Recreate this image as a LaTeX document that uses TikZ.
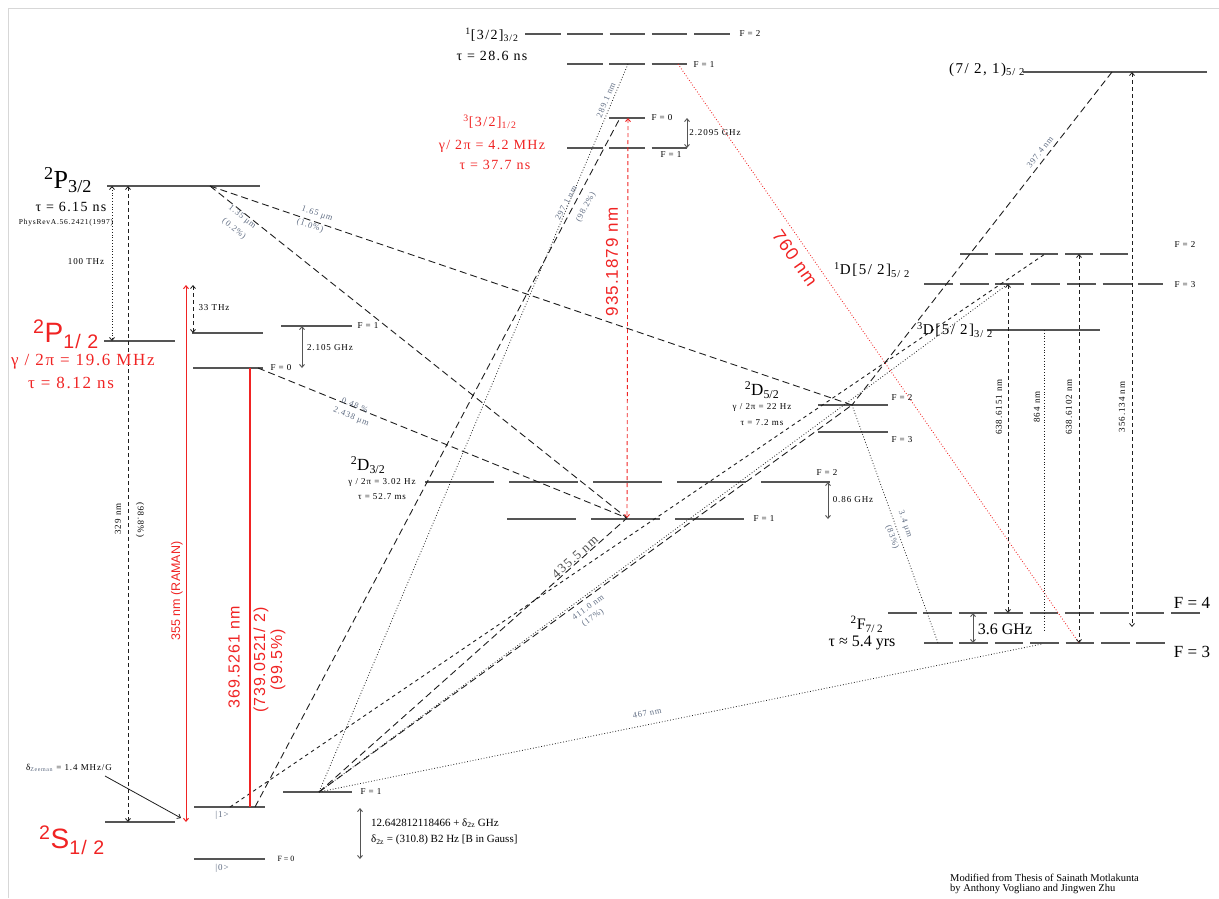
\documentclass[tikz,border=0pt]{standalone}
\usepackage{fontspec}
\setmainfont{Liberation Serif}
\setsansfont{Liberation Sans}
\newfontfamily\spc[LetterSpace=10]{Liberation Serif}
\newfontfamily\sspc[LetterSpace=6]{Liberation Sans}
\usetikzlibrary{arrows.meta}
\definecolor{lvlgray}{RGB}{85,85,85}
\definecolor{lnblack}{RGB}{30,30,30}
\definecolor{labslate}{RGB}{95,108,130}
\definecolor{ybred}{RGB}{240,35,35}
\definecolor{framegray}{RGB}{215,215,215}
\newcommand{\fsz}[1]{\fontsize{#1}{#1}\selectfont}

\begin{document}
\begin{tikzpicture}[x=1pt, y=-1pt,
    >={Straight Barb[length=3pt,width=5pt]},
    lvl/.style={lvlgray, line width=1.6pt},
    trans/.style={lnblack, line width=0.9pt, dash pattern=on 7pt off 4pt},
    sdash/.style={lnblack, line width=0.9pt, dash pattern=on 3.5pt off 3.5pt},
    dotln/.style={lnblack, line width=0.8pt, dash pattern=on 0.8pt off 2pt},
    reddot/.style={ybred, line width=0.9pt, dash pattern=on 0.8pt off 2pt},
    vspan/.style={lnblack, line width=0.8pt, dash pattern=on 4pt off 3pt, <->},
    gap/.style={lvlgray, line width=0.9pt, <->},
    flab/.style={font=\spc\fsz{9}, inner sep=0pt},
    tlab/.style={font=\spc\fsz{8.5}, text=labslate, inner sep=0pt},
    mlab/.style={font=\spc\fsz{14}, inner sep=0pt},
    termlab/.style={font=\fsz{26}, inner sep=0pt},
    rsans/.style={font=\sspc\fsz{16}, text=ybred, inner sep=0pt}
]
\useasboundingbox (0,0) rectangle (1219,898);
\draw[framegray, line width=0.8pt] (8,898) -- (8,8) -- (1219,8);

% levels
\draw[lvl] (107,186) -- (260,186);
\draw[lvl] (104,341) -- (175,341);
\draw[lvl] (192,333) -- (263,333);
\draw[lvl] (281,326) -- (352,326);
\draw[lvl] (193,368) -- (263,368);
\draw[lvl] (105,822) -- (175,822);
\draw[lvl] (194,807) -- (265,807);
\draw[lvl] (194,859) -- (265,859);
\draw[lvl] (283,792) -- (352,792);
\draw[lvl, dash pattern=on 69pt off 15pt] (425,482) -- (832,482);
\draw[lvl, dash pattern=on 69pt off 15pt] (507,519) -- (747,519);
\draw[lvl] (818,405) -- (888,405);
\draw[lvl] (818,432) -- (888,432);
\draw[lvl, dash pattern=on 35.5pt off 6.8pt] (525,34) -- (730,34);
\draw[lvl, dash pattern=on 35.5pt off 6.8pt] (567,64) -- (687,64);
\draw[lvl] (609,118) -- (645,118);
\draw[lvl, dash pattern=on 35.5pt off 6.8pt] (567,148) -- (687,148);
\draw[lvl] (1023,72) -- (1207,72);
\draw[lvl, dash pattern=on 28.3pt off 6.7pt] (960,254) -- (1128,254);
\draw[lvl, dash pattern=on 29pt off 6.7pt] (924,284) -- (1163,284);
\draw[lvl] (987,330) -- (1100,330);
\draw[lvl, dash pattern=on 28.5pt off 6.9pt] (888,613) -- (1200,613);
\draw[lvl, dash pattern=on 28.5pt off 6.9pt] (924,643) -- (1165,643);

% end points of the transitions
\coordinate (pA) at (210,186);
\coordinate (f0) at (258,368);
\coordinate (s1a) at (230,807);
\coordinate (s1b) at (255,807);
\coordinate (sF) at (319,792);
\coordinate (dA) at (627,518);
\coordinate (dB) at (852,405);
\coordinate (uA) at (628,64);
\coordinate (uB) at (678,64);
\coordinate (tA) at (620,118);
\coordinate (tB) at (628,118);
\coordinate (qA) at (1112,72);
\coordinate (qB) at (1132,72);
\coordinate (eA) at (1045,254);
\coordinate (eB) at (1079,254);
\coordinate (eC) at (1008,284);
\coordinate (gA) at (1044,330);
\coordinate (fA) at (938,643);
\coordinate (fB) at (1042,644);
\coordinate (fC) at (1079,643);
\coordinate (fD) at (1008,613);
\coordinate (fE) at (1132,627);
\coordinate (fF) at (1044,632);
\coordinate (lA) at (112,186);
\coordinate (lB) at (112,341);
\coordinate (lC) at (128,186);
\coordinate (lD) at (128,822);
\coordinate (rA) at (186,285);
\coordinate (rB) at (186,822);
\coordinate (hA) at (193,285);
\coordinate (hB) at (193,333);
\coordinate (gB) at (302,326);
\coordinate (gC) at (302,368);
\coordinate (cA) at (250,368);
\coordinate (cB) at (250,807);
\coordinate (zA) at (105,776);
\coordinate (zB) at (181,818);
\coordinate (kA) at (360,808);
\coordinate (kB) at (360,859);
\coordinate (mA) at (687,118);
\coordinate (mB) at (687,148);
\coordinate (nA) at (828,482);
\coordinate (nB) at (828,519);
\coordinate (oA) at (973,613);
\coordinate (oB) at (973,643);

% transitions
\draw[trans] (pA) -- (dB);
\draw[trans] (pA) -- (dA);
\draw[trans] (f0) -- (dA);
\draw[trans] (s1b) -- (tA);
\draw[dotln] (uA) -- (sF);
\draw[reddot] (uB) -- (fC);
\draw[ybred, line width=0.9pt, dash pattern=on 4pt off 3pt, <->] (tB) -- (dA);
\draw[trans] (sF) -- (dA);
\draw[trans] (sF) -- (dB);
\draw[trans] (qA) -- (dB);
\draw[dotln] (dB) -- (fA);
\draw[dotln] (sF) -- (fB);
\draw[sdash] (s1a) -- (eA);
\draw[dotln] (sF) -- (eC);
\draw[vspan] (qB) -- (fE);
\draw[vspan] (eC) -- (fD);
\draw[vspan] (eB) -- (fC);
\draw[dotln] (gA) -- (fF);
\draw[dotln, <->] (lA) -- (lB);
\draw[vspan] (lC) -- (lD);
\draw[ybred, line width=1pt, <->] (rA) -- (rB);
\draw[vspan] (hA) -- (hB);
\draw[gap] (gB) -- (gC);
\draw[ybred, line width=1.4pt] (cA) -- (cB);
\draw[lnblack, line width=0.8pt, ->] (zA) -- (zB);
\draw[gap] (kA) -- (kB);
\draw[gap] (mA) -- (mB);
\draw[gap] (nA) -- (nB);
\draw[gap] (oA) -- (oB);

% 2P3/2
\node[termlab] (lP32) at (68,180) {\textsuperscript{2}P\textsubscript{3/2}};
\node[mlab] (tP32) at (71,207) {τ = 6.15 ns};
\node[flab, font=\spc\fsz{7.5}] (ref) at (66,223) {PhysRevA.56.2421(1997)};
\node[flab] (thz) at (86,262) {100 THz};
% 2P1/2
\node[termlab, font=\sspc\fsz{28}, text=ybred] (lP12) at (66,334) {\textsuperscript{2}P\textsubscript{1/ 2}};
\node[mlab, font=\spc\fsz{17}, text=ybred] (gP12) at (83,362) {γ / 2π = 19.6 MHz};
\node[mlab, font=\spc\fsz{17}, text=ybred] (tP12) at (71,383) {τ = 8.12 ns};
\node[flab, rotate=90] (w329) at (118,519) {329 nm};
\node[flab, rotate=-90] (b329) at (140,520) {(98.8\%)};
\node[flab] (zee) at (69,768) {δ\textsubscript{\textcolor{labslate}{Zeeman}} = 1.4 MHz/G};
% 2S1/2
\node[termlab, font=\sspc\fsz{28}, text=ybred] (lS12) at (72,840) {\textsuperscript{2}S\textsubscript{1/ 2}};
\node[rsans, font=\sffamily\fsz{12.5}, rotate=90] (raman) at (177,591) {355 nm (RAMAN)};
\node[flab] (thz33) at (214,308) {33 THz};
\node[flab] (ghz2) at (330,348) {2.105 GHz};
\node[flab] (pf1) at (368,326) {F = 1};
\node[flab] (pf0) at (281,368) {F = 0};
\node[rsans, rotate=90] (w369) at (234,657) {369.5261 nm};
\node[rsans, rotate=90] (w739) at (261,660) {(739.0521/ 2)};
\node[rsans, rotate=90] (b369) at (278,660) {(99.5\%)};
\node[flab, text=labslate] (ket1) at (222,815) {|1>};
\node[flab, text=labslate] (ket0) at (222,868) {|0>};
\node[flab] (sf1) at (371,792) {F = 1};
\node[flab, font=\fsz{8}] (sf0) at (286,859) {F = 0};
\node[font=\fsz{11}, inner sep=0pt, anchor=west] (hfs) at (371,823) {12.642812118466 + δ\textsubscript{2z} GHz};
\node[font=\fsz{11}, inner sep=0pt, anchor=west] (quad) at (371,840) {δ\textsubscript{2z} = (310.8) B2 Hz [B in Gauss]};

% 1[3/2]3/2 and 3[3/2]1/2
\node[mlab] (lU) at (492,35) {\textsuperscript{1}[3/2]\textsubscript{3/2}};
\node[mlab] (tU) at (492,56) {τ = 28.6 ns};
\node[flab] (uf2) at (750,34) {F = 2};
\node[flab] (uf1) at (704,65) {F = 1};
\node[mlab, text=ybred] (lT) at (490,122) {\textsuperscript{3}[3/2]\textsubscript{1/2}};
\node[mlab, text=ybred] (gT) at (492,146) {γ/ 2π = 4.2 MHz};
\node[mlab, text=ybred] (tT) at (495,165) {τ = 37.7 ns};
\node[flab] (tf0) at (662,118) {F = 0};
\node[flab] (tf1) at (671,155) {F = 1};
\node[flab] (ghz22) at (715,133) {2.2095 GHz};
\node[rsans, font=\sspc\fsz{17}, rotate=90] (w935) at (612,262) {935.1879 nm};
\node[tlab, rotate=67] (w289) at (606,100) {289.1 nm};
\node[tlab, rotate=62] (w297) at (566,203) {297.1 nm};
\node[tlab, rotate=62] (b297) at (586,207) {(98.2\%)};
\node[tlab, rotate=-19] (w165) at (317,214) {1.65 μm};
\node[tlab, rotate=-19] (b165) at (310,226) {(1.0\%)};
\node[tlab, rotate=-39] (w135) at (242,217) {1.35 μm};
\node[tlab, rotate=-39] (b135) at (234,229) {(0.2\%)};
\node[tlab, rotate=-22] (b243) at (355,405) {0.48 \%};
\node[tlab, rotate=-22] (w243) at (351,417) {2.438 μm};

% 2D3/2 and 2D5/2
\node[termlab, font=\fsz{17}] (lD3) at (368,465) {\textsuperscript{2}D\textsubscript{3/2}};
\node[flab] (gD3) at (382,482) {γ / 2π = 3.02 Hz};
\node[flab] (tD3) at (382,497) {τ = 52.7 ms};
\node[flab] (df2) at (827,473) {F = 2};
\node[flab] (df1) at (764,519) {F = 1};
\node[flab] (ghz86) at (853,500) {0.86 GHz};
\node[termlab, font=\fsz{17}] (lD5) at (762,390) {\textsuperscript{2}D\textsubscript{5/2}};
\node[flab] (gD5) at (762,407) {γ / 2π = 22 Hz};
\node[flab] (tD5) at (762,423) {τ = 7.2 ms};
\node[flab] (ef2) at (902,398) {F = 2};
\node[flab] (ef3) at (902,440) {F = 3};
\node[mlab, font=\spc\fsz{13}, text=lnblack!80, rotate=42] (w435) at (575,557) {435.5 nm};
\node[tlab, rotate=36] (w411) at (588,607) {411.0 nm};
\node[tlab, rotate=36] (b411) at (593,618) {(17\%)};
\node[tlab, rotate=11.6] (w467) at (647,713) {467 nm};
\node[rsans, font=\sspc\fsz{18}, rotate=-55] (w760) at (795,258) {760 nm};

% upper right levels
\node[mlab, font=\spc\fsz{15}] (lQ) at (987,70) {(7/ 2, 1)\textsubscript{5/ 2}};
\node[tlab, rotate=52] (w397) at (1040,152) {397.4 nm};
\node[mlab, font=\spc\fsz{15}] (lE) at (872,270) {\textsuperscript{1}D[5/ 2]\textsubscript{5/ 2}};
\node[flab] (qf2) at (1185,245) {F = 2};
\node[flab] (qf3) at (1185,285) {F = 3};
\node[mlab, font=\spc\fsz{15}] (lG) at (955,330) {\textsuperscript{3}D[5/ 2]\textsubscript{3/ 2}};
\node[flab, rotate=90] (w6151) at (999,407) {638.6151 nm};
\node[flab, rotate=90] (w864) at (1037,407) {864 nm};
\node[flab, rotate=90] (w6102) at (1069,407) {638.6102 nm};
\node[flab, rotate=90] (w356) at (1122,407) {356.134 nm};
\node[tlab, rotate=-70] (w34) at (905,524) {3.4 μm};
\node[tlab, rotate=-70] (b34) at (892,537) {(83\%)};

% 2F7/2
\node[termlab, font=\fsz{16}] (lF) at (867,624) {\textsuperscript{2}F\textsubscript{7/ 2}};
\node[termlab, font=\fsz{16}] (tF) at (862,643) {τ ≈ 5.4 yrs};
\node[termlab, font=\fsz{16}] (ghz36) at (1005,629) {3.6 GHz};
\node[termlab, font=\fsz{17}] (ff4) at (1192,603) {F = 4};
\node[termlab, font=\fsz{17}] (ff3) at (1192,652) {F = 3};

\node[font=\fsz{10.5}, inner sep=0pt, anchor=west, align=left] (credit) at (950,884)
    {Modified from Thesis of Sainath Motlakunta\\by Anthony Vogliano and Jingwen Zhu};
\end{tikzpicture}
\end{document}
